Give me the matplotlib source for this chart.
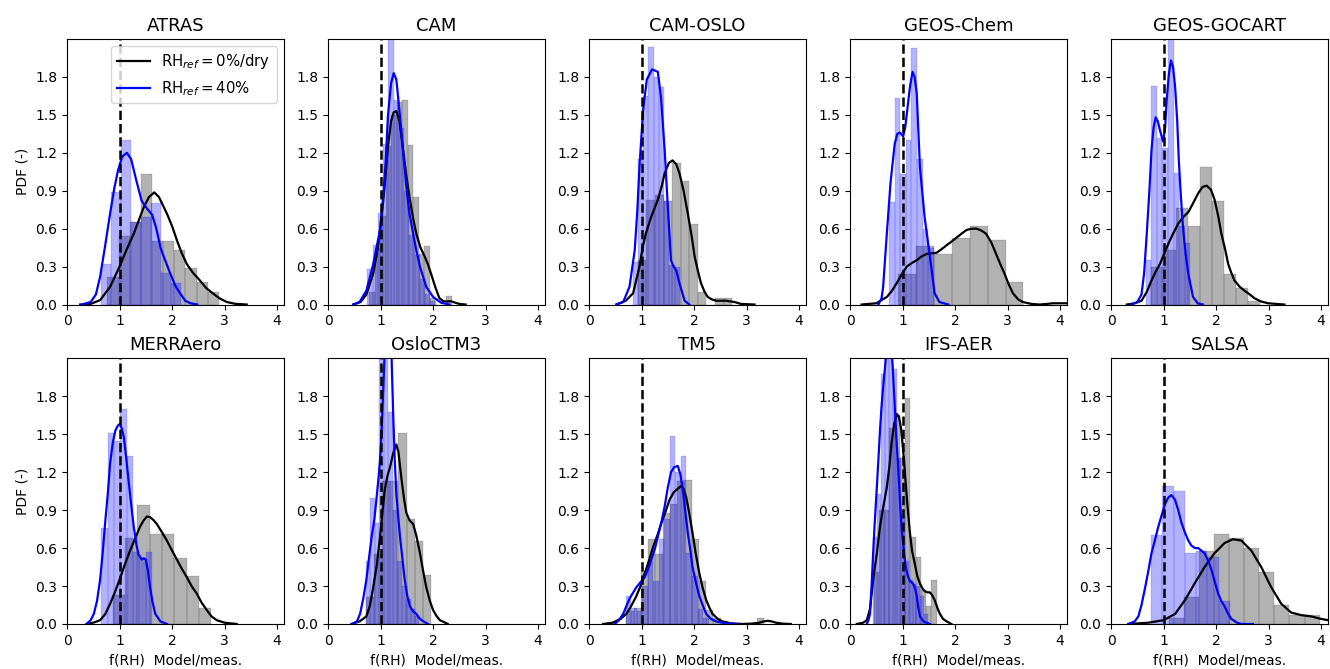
import numpy as np
import matplotlib
matplotlib.use("Agg")
import matplotlib.pyplot as plt

# histogram = (first bin edge, bin width, bar heights); kde = (x, pdf) points
models = ["ATRAS", "CAM", "CAM-OSLO", "GEOS-Chem", "GEOS-GOCART",
          "MERRAero", "OsloCTM3", "TM5", "IFS-AER", "SALSA"]

# ---------------- ATRAS
atras_dry_hist = (0.77, 0.212, [0.22, 0.54, 0.65, 1.03, 0.50, 0.50, 0.43, 0.29, 0.18, 0.10])
atras_wet_hist = (0.65, 0.19, [0.32, 0.89, 1.30, 0.65, 0.69, 0.80, 0.25, 0.17])
atras_dry_kde = [(0.25, 0.0), (0.45, 0.005), (0.63, 0.035), (0.82, 0.14), (1.0, 0.30), (1.15, 0.45),
                 (1.27, 0.56), (1.37, 0.67), (1.46, 0.77), (1.56, 0.85), (1.66, 0.887), (1.75, 0.85),
                 (1.90, 0.72), (2.00, 0.62), (2.09, 0.51), (2.18, 0.41), (2.28, 0.32), (2.40, 0.25),
                 (2.53, 0.19), (2.65, 0.13), (2.78, 0.087), (2.90, 0.05), (3.04, 0.02), (3.20, 0.006),
                 (3.42, 0.0)]
atras_wet_kde = [(0.28, 0), (0.45, 0.02), (0.55, 0.08), (0.63, 0.22), (0.72, 0.45), (0.82, 0.72),
                 (0.90, 0.92), (0.97, 1.06), (1.05, 1.17), (1.14, 1.20), (1.22, 1.15), (1.32, 0.98),
                 (1.42, 0.82), (1.52, 0.76), (1.62, 0.71), (1.70, 0.60), (1.78, 0.45), (1.84, 0.38),
                 (1.96, 0.25), (2.06, 0.15), (2.15, 0.09), (2.25, 0.03), (2.35, 0.01), (2.48, 0)]

# ---------------- CAM
cam_dry_hist = (0.78, 0.105, [0.10, 0.45, 0.70, 1.25, 1.50, 1.60, 1.62, 1.26, 0.85, 0.40, 0.46,
                              0.05, 0.0, 0.0, 0.066])
cam_wet_hist = (0.75, 0.1, [0.28, 0.47, 0.72, 1.27, 2.2, 1.62, 1.40, 0.90, 0.55, 0.39, 0.20, 0.08, 0.03])
cam_dry_kde = [(0.48, 0), (0.62, 0.02), (0.73, 0.08), (0.86, 0.245), (0.95, 0.45), (1.02, 0.69),
               (1.08, 0.95), (1.14, 1.25), (1.20, 1.45), (1.25, 1.52), (1.30, 1.53), (1.36, 1.45),
               (1.43, 1.22), (1.49, 1.02), (1.55, 0.85), (1.62, 0.68), (1.68, 0.56), (1.76, 0.45),
               (1.84, 0.38), (1.90, 0.32), (1.96, 0.245), (2.04, 0.14), (2.12, 0.05), (2.20, 0.025),
               (2.28, 0.025), (2.34, 0.026), (2.42, 0.015), (2.50, 0.005), (2.62, 0)]
cam_wet_kde = [(0.48, 0), (0.60, 0.02), (0.73, 0.11), (0.86, 0.32), (0.99, 0.59), (1.05, 0.85),
               (1.10, 1.15), (1.14, 1.49), (1.20, 1.75), (1.25, 1.83), (1.30, 1.78), (1.37, 1.49),
               (1.43, 1.20), (1.49, 0.93), (1.55, 0.72), (1.62, 0.56), (1.68, 0.43), (1.75, 0.30),
               (1.87, 0.14), (2.0, 0.06), (2.15, 0.015), (2.31, 0)]

# ---------------- CAM-OSLO
camoslo_dry_hist = (0.93, 0.163, [0.35, 0.83, 0.87, 0.82, 1.12, 0.98, 0.64, 0.10, 0.0, 0.05, 0.05])
camoslo_wet_hist = (0.83, 0.1, [0.34, 1.15, 1.65, 2.04, 1.80, 1.72, 0.82, 0.31, 0.30])
camoslo_dry_kde = [(0.52, 0), (0.70, 0.03), (0.84, 0.09), (0.96, 0.30), (1.02, 0.45), (1.08, 0.56),
                   (1.18, 0.69), (1.31, 0.83), (1.38, 0.93), (1.44, 1.04), (1.52, 1.12), (1.59, 1.14),
                   (1.66, 1.11), (1.72, 1.04), (1.80, 0.90), (1.88, 0.72), (1.95, 0.55), (2.01, 0.38),
                   (2.07, 0.27), (2.13, 0.17), (2.20, 0.10), (2.26, 0.06), (2.34, 0.04), (2.42, 0.03),
                   (2.61, 0.03), (2.77, 0.02), (2.89, 0.005), (3.15, 0)]
camoslo_wet_kde = [(0.52, 0), (0.65, 0.02), (0.77, 0.14), (0.87, 0.43), (0.92, 0.75), (0.96, 1.09),
                   (1.03, 1.54), (1.10, 1.78), (1.20, 1.86), (1.31, 1.84), (1.37, 1.64), (1.44, 1.22),
                   (1.50, 0.77), (1.56, 0.35), (1.61, 0.30), (1.66, 0.27), (1.72, 0.17), (1.82, 0.03),
                   (1.91, 0)]

# ---------------- GEOS-Chem
geoschem_dry_hist = (0.92, 0.34, [0.24, 0.46, 0.40, 0.53, 0.62, 0.51, 0.18])
geoschem_wet_hist = (0.74, 0.107, [0.81, 1.63, 1.03, 1.30, 2.03, 1.15, 0.60, 0.45])
geoschem_dry_kde = [(0.22, 0), (0.50, 0.01), (0.70, 0.06), (0.80, 0.11), (0.89, 0.17), (1.0, 0.25),
                    (1.08, 0.30), (1.18, 0.33), (1.27, 0.35), (1.36, 0.38), (1.46, 0.40), (1.56, 0.405),
                    (1.65, 0.41), (1.75, 0.44), (1.84, 0.47), (1.94, 0.50), (2.03, 0.53), (2.12, 0.56),
                    (2.22, 0.59), (2.32, 0.60), (2.41, 0.60), (2.50, 0.585), (2.59, 0.56), (2.69, 0.49),
                    (2.78, 0.40), (2.86, 0.32), (2.94, 0.245), (3.02, 0.16), (3.10, 0.09), (3.20, 0.04),
                    (3.29, 0.02), (3.45, 0.005), (3.61, 0.0), (3.75, 0.005), (3.86, 0.01), (4.13, 0.01)]
geoschem_wet_kde = [(0.54, 0), (0.60, 0.05), (0.63, 0.14), (0.70, 0.56), (0.77, 0.96), (0.85, 1.27),
                    (0.90, 1.35), (0.95, 1.36), (1.01, 1.33), (1.05, 1.40), (1.09, 1.54), (1.14, 1.72),
                    (1.19, 1.84), (1.23, 1.80), (1.27, 1.67), (1.33, 1.09), (1.42, 0.69), (1.52, 0.38),
                    (1.61, 0.09), (1.70, 0.02), (1.87, 0)]

# ---------------- GEOS-GOCART
gocart_dry_hist = (0.77, 0.23, [0.30, 0.43, 0.76, 0.62, 1.09, 0.82, 0.24, 0.13, 0.03])
gocart_wet_hist = (0.66, 0.106, [0.35, 1.73, 1.32, 1.24, 2.2, 1.04, 0.62, 0.49])
gocart_dry_kde = [(0.30, 0), (0.45, 0.01), (0.58, 0.03), (0.68, 0.10), (0.77, 0.19), (0.85, 0.26),
                  (0.93, 0.32), (1.01, 0.40), (1.09, 0.48), (1.18, 0.56), (1.28, 0.64), (1.37, 0.69),
                  (1.47, 0.73), (1.56, 0.80), (1.66, 0.88), (1.74, 0.93), (1.82, 0.94), (1.90, 0.91),
                  (1.97, 0.83), (2.04, 0.70), (2.10, 0.56), (2.17, 0.44), (2.23, 0.32), (2.29, 0.25),
                  (2.35, 0.19), (2.45, 0.14), (2.54, 0.11), (2.64, 0.08), (2.73, 0.05), (2.85, 0.025),
                  (2.99, 0.01), (3.30, 0)]
gocart_wet_kde = [(0.39, 0), (0.50, 0.02), (0.58, 0.08), (0.63, 0.25), (0.68, 0.56), (0.73, 0.90),
                  (0.77, 1.22), (0.81, 1.40), (0.85, 1.48), (0.89, 1.45), (0.93, 1.38), (0.99, 1.29),
                  (1.03, 1.40), (1.06, 1.62), (1.10, 1.82), (1.14, 1.93), (1.18, 1.88), (1.22, 1.72),
                  (1.26, 1.45), (1.29, 1.14), (1.33, 0.85), (1.37, 0.61), (1.42, 0.40), (1.47, 0.245),
                  (1.56, 0.06), (1.65, 0.01), (1.75, 0)]

# ---------------- MERRAero
merra_dry_hist = (0.87, 0.235, [0.23, 0.68, 0.94, 0.71, 0.71, 0.52, 0.38, 0.13])
merra_wet_hist = (0.65, 0.121, [0.76, 1.51, 1.45, 1.70, 1.33, 0.57, 0.52, 0.57])
merra_dry_kde = [(0.38, 0), (0.50, 0.01), (0.63, 0.03), (0.73, 0.08), (0.82, 0.16), (0.91, 0.25),
                 (1.0, 0.35), (1.10, 0.47), (1.20, 0.58), (1.30, 0.68), (1.39, 0.77), (1.46, 0.82),
                 (1.52, 0.85), (1.58, 0.845), (1.65, 0.82), (1.71, 0.79), (1.80, 0.73), (1.90, 0.66),
                 (2.0, 0.58), (2.09, 0.51), (2.18, 0.44), (2.28, 0.37), (2.37, 0.30), (2.47, 0.24),
                 (2.56, 0.17), (2.66, 0.11), (2.75, 0.06), (2.85, 0.03), (3.0, 0.01), (3.23, 0)]
merra_wet_kde = [(0.37, 0), (0.45, 0.03), (0.51, 0.08), (0.57, 0.18), (0.63, 0.35), (0.68, 0.57),
                 (0.73, 0.82), (0.78, 1.05), (0.82, 1.27), (0.87, 1.43), (0.92, 1.53), (0.97, 1.57),
                 (1.0, 1.58), (1.04, 1.55), (1.08, 1.48), (1.12, 1.34), (1.17, 1.14), (1.22, 0.95),
                 (1.27, 0.77), (1.32, 0.63), (1.36, 0.55), (1.42, 0.51), (1.46, 0.52), (1.50, 0.51),
                 (1.54, 0.42), (1.58, 0.29), (1.63, 0.17), (1.68, 0.08), (1.78, 0.02), (1.90, 0)]

# ---------------- OsloCTM3
oslo_dry_hist = (0.72, 0.155, [0.21, 0.55, 1.13, 1.13, 1.51, 0.83, 0.66, 0.39])
oslo_wet_hist = (0.72, 0.085, [0.50, 1.00, 0.80, 2.2, 2.2, 1.68, 0.90, 0.50, 0.30, 0.20, 0.12, 0.06])
oslo_dry_kde = [(0.45, 0), (0.60, 0.02), (0.73, 0.06), (0.80, 0.15), (0.86, 0.29), (0.93, 0.47),
                (0.99, 0.69), (1.04, 0.90), (1.08, 1.06), (1.13, 1.17), (1.18, 1.24), (1.24, 1.35),
                (1.30, 1.42), (1.34, 1.36), (1.40, 1.14), (1.45, 0.98), (1.49, 0.88), (1.55, 0.82),
                (1.62, 0.79), (1.68, 0.70), (1.75, 0.56), (1.81, 0.42), (1.87, 0.29), (1.94, 0.18),
                (2.0, 0.11), (2.07, 0.06), (2.13, 0.03), (2.28, 0)]
oslo_wet_kde = [(0.45, 0), (0.55, 0.02), (0.61, 0.08), (0.67, 0.20), (0.73, 0.35), (0.78, 0.52),
                (0.83, 0.69), (0.88, 0.82), (0.92, 0.98), (0.96, 1.15), (0.99, 1.30), (1.02, 1.52),
                (1.04, 1.74), (1.07, 2.05), (1.10, 2.40), (1.14, 2.60), (1.18, 2.45), (1.21, 2.10),
                (1.24, 1.66), (1.27, 1.30), (1.30, 1.03), (1.34, 0.83), (1.37, 0.69), (1.42, 0.50),
                (1.46, 0.35), (1.51, 0.22), (1.56, 0.14), (1.62, 0.10), (1.68, 0.08), (1.73, 0.05),
                (1.78, 0.03), (1.90, 0)]

# ---------------- TM5
tm5_dry_hist = (0.71, 0.138, [0.10, 0.13, 0.42, 0.67, 0.55, 0.88, 0.95, 1.13, 1.14, 0.67, 0.34,
                              0.11, 0.05, 0.02, 0, 0, 0, 0, 0.05])
tm5_wet_hist = (0.70, 0.105, [0.22, 0.13, 0.10, 0.30, 0.50, 0.34, 0.67, 0.83, 1.49, 1.20, 1.33,
                              0.56, 0.38, 0.12, 0.05])
tm5_dry_kde = [(0.27, 0), (0.45, 0.01), (0.60, 0.04), (0.71, 0.08), (0.80, 0.14), (0.90, 0.22),
               (0.98, 0.30), (1.06, 0.40), (1.14, 0.50), (1.22, 0.61), (1.30, 0.70), (1.37, 0.79),
               (1.45, 0.88), (1.53, 0.98), (1.61, 1.04), (1.69, 1.07), (1.75, 1.09), (1.80, 1.07),
               (1.85, 1.00), (1.91, 0.87), (1.97, 0.72), (2.03, 0.56), (2.10, 0.40), (2.16, 0.29),
               (2.23, 0.19), (2.29, 0.13), (2.35, 0.08), (2.45, 0.04), (2.54, 0.02), (2.70, 0.005),
               (2.92, 0.0), (3.10, 0.003), (3.24, 0.01), (3.32, 0.02), (3.40, 0.025), (3.48, 0.02),
               (3.56, 0.01), (3.70, 0.002), (3.84, 0)]
tm5_wet_kde = [(0.49, 0), (0.57, 0.03), (0.65, 0.08), (0.77, 0.20), (0.90, 0.29), (0.98, 0.33),
               (1.06, 0.37), (1.12, 0.43), (1.18, 0.50), (1.25, 0.59), (1.31, 0.69), (1.38, 0.81),
               (1.44, 0.93), (1.50, 1.08), (1.56, 1.20), (1.62, 1.24), (1.69, 1.25), (1.74, 1.18),
               (1.78, 1.08), (1.83, 0.90), (1.88, 0.72), (1.93, 0.58), (1.97, 0.45), (2.04, 0.32),
               (2.10, 0.22), (2.17, 0.14), (2.23, 0.08), (2.32, 0.04), (2.42, 0.02), (2.60, 0.005),
               (2.80, 0)]

# ---------------- IFS-AER
ifs_dry_hist = (0.45, 0.1, [0.41, 0.90, 0.90, 1.55, 1.65, 1.31, 1.79, 0.69, 0.53, 0.27, 0.14, 0.35])
ifs_wet_hist = (0.44, 0.075, [0.69, 1.03, 1.98, 2.2, 2.2, 2.02, 1.31, 0.85, 0.50, 0.35, 0.32, 0.30,
                              0.22, 0.08])
ifs_dry_kde = [(0.13, 0), (0.25, 0.01), (0.32, 0.03), (0.38, 0.12), (0.44, 0.35), (0.51, 0.56),
               (0.57, 0.77), (0.63, 0.92), (0.70, 1.08), (0.75, 1.25), (0.79, 1.43), (0.84, 1.58),
               (0.89, 1.66), (0.93, 1.64), (0.97, 1.55), (1.01, 1.38), (1.04, 1.22), (1.09, 0.95),
               (1.14, 0.72), (1.18, 0.58), (1.23, 0.48), (1.28, 0.38), (1.33, 0.32), (1.38, 0.28),
               (1.42, 0.26), (1.47, 0.25), (1.52, 0.25), (1.56, 0.23), (1.61, 0.19), (1.66, 0.13),
               (1.71, 0.08), (1.77, 0.04), (1.84, 0.02), (1.93, 0)]
ifs_wet_kde = [(0.32, 0), (0.35, 0.03), (0.38, 0.08), (0.41, 0.30), (0.44, 0.56), (0.47, 0.80),
               (0.51, 1.08), (0.54, 1.30), (0.57, 1.53), (0.60, 1.72), (0.63, 1.87), (0.67, 2.05),
               (0.70, 2.20), (0.74, 2.28), (0.78, 2.22), (0.81, 2.05), (0.85, 1.74), (0.88, 1.48),
               (0.92, 1.22), (0.95, 0.98), (0.98, 0.77), (1.02, 0.60), (1.06, 0.45), (1.10, 0.38),
               (1.14, 0.34), (1.20, 0.32), (1.24, 0.28), (1.27, 0.22), (1.30, 0.13), (1.33, 0.06),
               (1.40, 0.02), (1.52, 0)]

# ---------------- SALSA
salsa_dry_hist = (1.10, 0.287, [0.05, 0.21, 0.58, 0.71, 0.68, 0.60, 0.41, 0.15, 0.07, 0.07])
salsa_wet_hist = (0.76, 0.215, [0.70, 1.09, 1.05, 0.56, 0.58, 0.53, 0.18])
salsa_dry_kde = [(0.33, 0), (0.71, 0.01), (1.0, 0.03), (1.22, 0.08), (1.41, 0.19), (1.59, 0.32),
                 (1.78, 0.45), (1.97, 0.56), (2.16, 0.64), (2.32, 0.67), (2.48, 0.66), (2.67, 0.58),
                 (2.86, 0.45), (3.05, 0.29), (3.24, 0.16), (3.43, 0.09), (3.62, 0.07), (3.81, 0.06),
                 (4.0, 0.04), (4.13, 0.03)]
salsa_wet_kde = [(0.33, 0), (0.45, 0.02), (0.52, 0.06), (0.58, 0.15), (0.65, 0.29), (0.71, 0.42),
                 (0.77, 0.56), (0.84, 0.67), (0.90, 0.77), (0.97, 0.87), (1.03, 0.95), (1.09, 1.0),
                 (1.15, 1.02), (1.22, 0.98), (1.28, 0.90), (1.34, 0.80), (1.41, 0.72), (1.47, 0.66),
                 (1.53, 0.62), (1.60, 0.60), (1.66, 0.60), (1.72, 0.58), (1.78, 0.56), (1.85, 0.50),
                 (1.91, 0.43), (1.97, 0.34), (2.04, 0.24), (2.10, 0.18), (2.16, 0.14), (2.23, 0.08),
                 (2.29, 0.04), (2.40, 0.01), (2.48, 0.0), (2.70, 0)]

dry_hists = [atras_dry_hist, cam_dry_hist, camoslo_dry_hist, geoschem_dry_hist, gocart_dry_hist,
             merra_dry_hist, oslo_dry_hist, tm5_dry_hist, ifs_dry_hist, salsa_dry_hist]
wet_hists = [atras_wet_hist, cam_wet_hist, camoslo_wet_hist, geoschem_wet_hist, gocart_wet_hist,
             merra_wet_hist, oslo_wet_hist, tm5_wet_hist, ifs_wet_hist, salsa_wet_hist]
dry_kdes = [atras_dry_kde, cam_dry_kde, camoslo_dry_kde, geoschem_dry_kde, gocart_dry_kde,
            merra_dry_kde, oslo_dry_kde, tm5_dry_kde, ifs_dry_kde, salsa_dry_kde]
wet_kdes = [atras_wet_kde, cam_wet_kde, camoslo_wet_kde, geoschem_wet_kde, gocart_wet_kde,
            merra_wet_kde, oslo_wet_kde, tm5_wet_kde, ifs_wet_kde, salsa_wet_kde]

labels = [r"RH$_{ref}=0\%$/dry", r"RH$_{ref}=40\%$"]
colors = ["k", "b"]


def draw_hist(ax, hist, color):
    start, width, heights = hist
    lefts = start + width * np.arange(len(heights))
    ax.bar(lefts, heights, width=width, align="edge", color=color, alpha=0.3,
           edgecolor=color, linewidth=0.3)


def draw_kde(ax, kde, color, label):
    pts = np.array(kde)
    ax.plot(pts[:, 0], pts[:, 1], color=color, lw=1.6, label=label)


fig, axes = plt.subplots(2, 5, figsize=(13.3, 6.69), dpi=100)
fig.subplots_adjust(left=0.0504, right=0.9985, top=0.9417, bottom=0.0673,
                    wspace=0.203, hspace=0.203)

for i, ax in enumerate(axes.flat):
    draw_hist(ax, dry_hists[i], colors[0])
    draw_hist(ax, wet_hists[i], colors[1])
    draw_kde(ax, dry_kdes[i], colors[0], labels[0])
    draw_kde(ax, wet_kdes[i], colors[1], labels[1])
    ax.axvline(1, color="k", ls="--", lw=1.8)
    ax.set_xlim(0, 4.13)
    ax.set_ylim(0, 2.1)
    ax.set_xticks([0, 1, 2, 3, 4])
    ax.set_yticks([0.0, 0.3, 0.6, 0.9, 1.2, 1.5, 1.8])
    ax.set_title(models[i], fontsize=13)
    ax.tick_params(labelsize=10)
    if i % 5 == 0:
        ax.set_ylabel("PDF (-)", fontsize=10)
    if i >= 5:
        ax.set_xlabel("f(RH)  Model/meas.", fontsize=10)

axes[0, 0].legend(loc="upper right", fontsize=10.7, handlelength=2.2)

fig.savefig("out.png", dpi=100)
